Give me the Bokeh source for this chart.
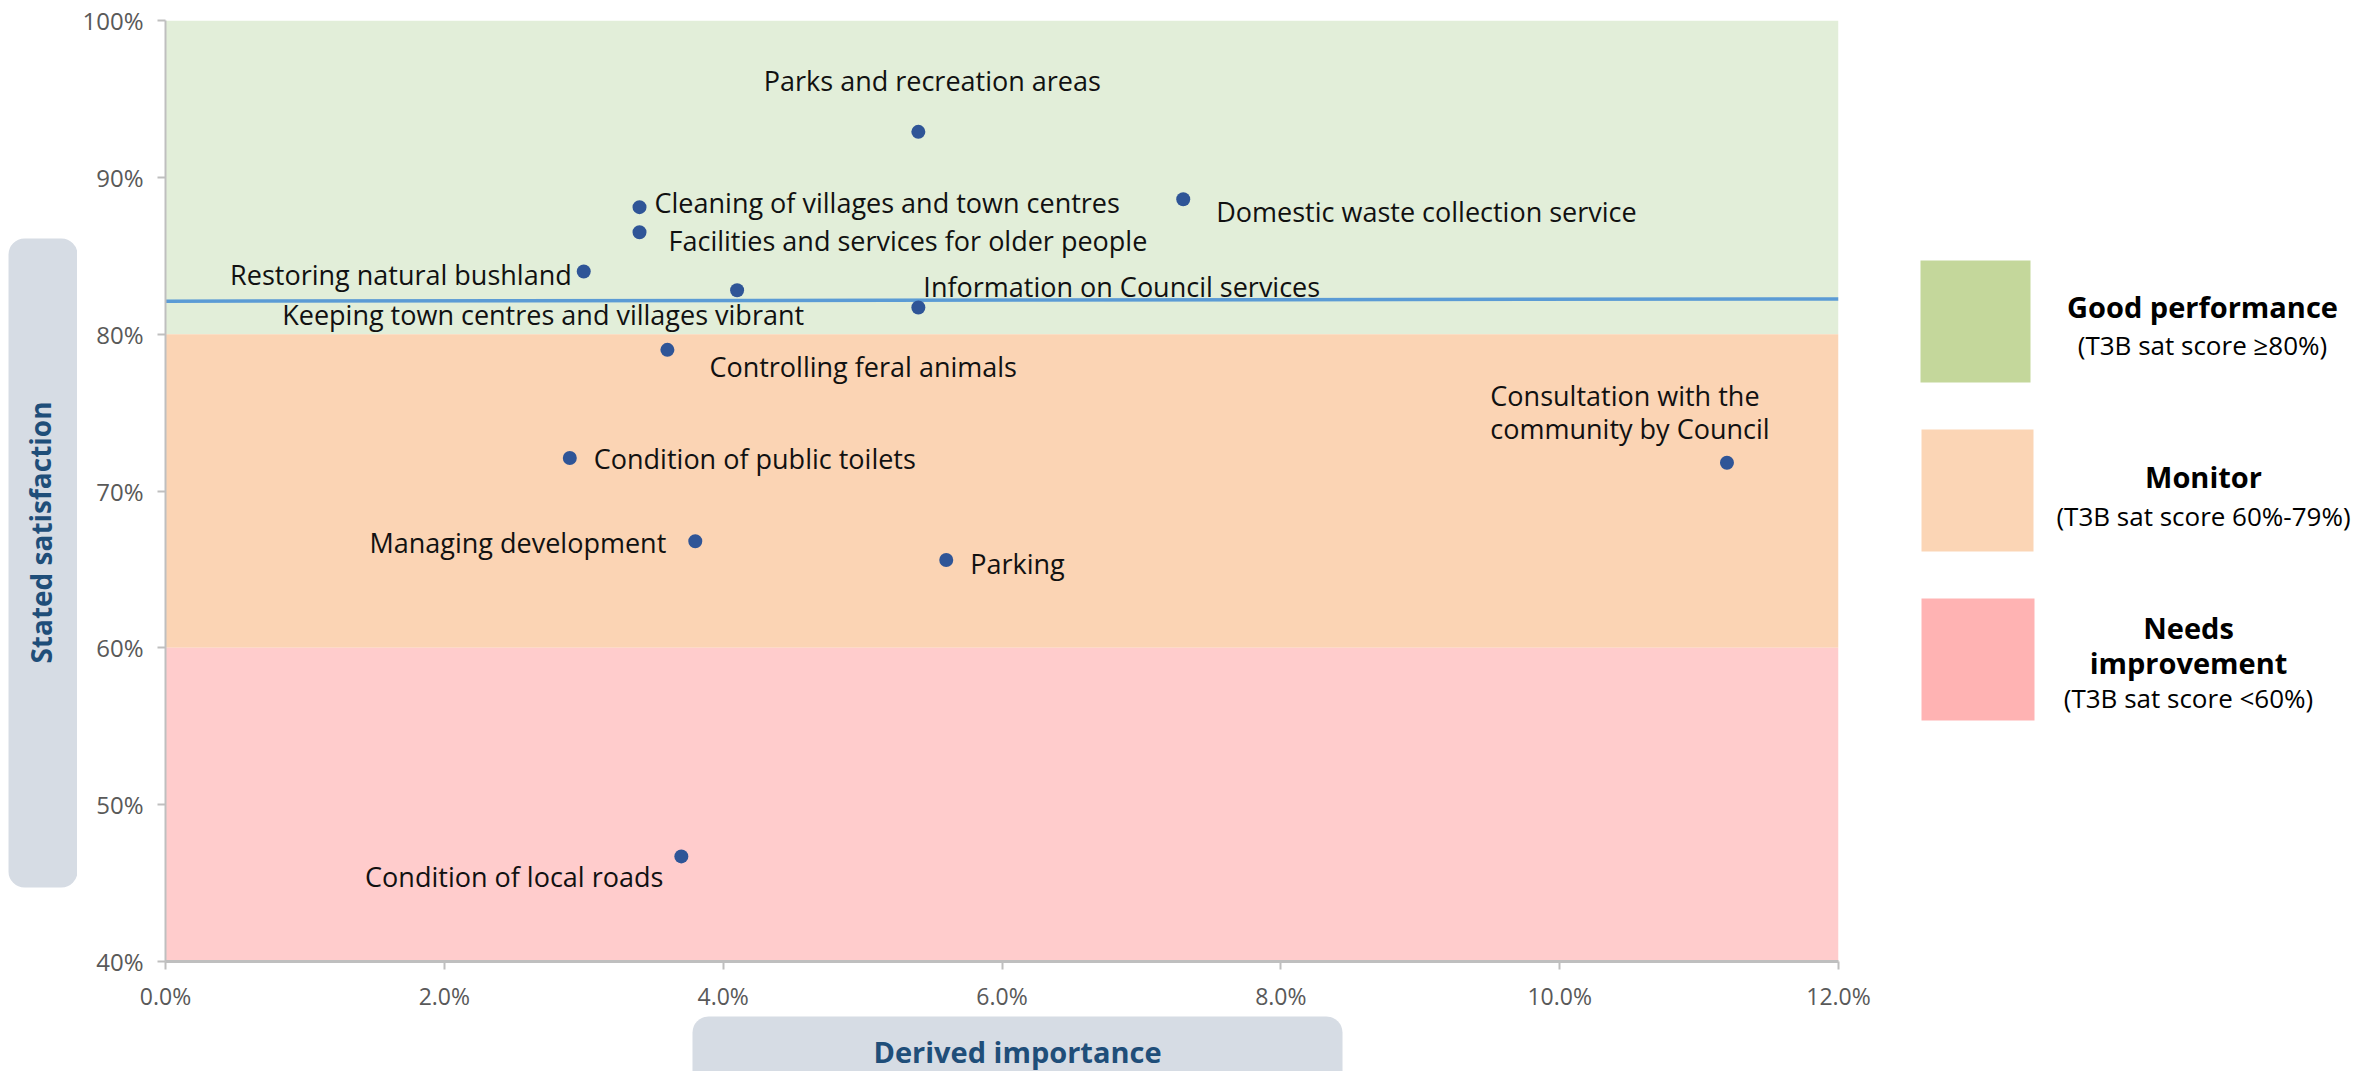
from bokeh.plotting import figure
from bokeh.layouts import row, column
from bokeh.models import (ColumnDataSource, LabelSet, Label, BoxAnnotation, Range1d,
                          PrintfTickFormatter, FixedTicker)
from bokeh.core.properties import value
from bokeh.embed import file_html
from bokeh.resources import INLINE

# ---------------- data ----------------
items = ["Parks and recreation areas", "Cleaning of villages and town centres",
         "Domestic waste collection service", "Facilities and services for older people",
         "Restoring natural bushland", "Keeping town centres and villages vibrant",
         "Information on Council services", "Controlling feral animals",
         "Condition of public toilets", "Consultation with the\ncommunity by Council",
         "Managing development", "Parking", "Condition of local roads"]
importance = [5.4, 3.4, 7.3, 3.4, 3.0, 4.1, 5.4, 3.6, 2.9, 11.2, 3.8, 5.6, 3.7]
satisfaction = [92.9, 88.1, 88.6, 86.5, 84.0, 82.8, 81.7, 79.0, 72.1, 71.8, 66.8, 65.6, 46.7]

avg_x = [0.0, 12.0]
avg_y = [82.1, 82.25]

band_bottom = [80, 60, 40]
band_top = [100, 80, 60]
band_colors = ["#E2EED9", "#FBD4B4", "#FFCCCC"]

x_ticks = [0, 2, 4, 6, 8, 10, 12]
y_ticks = [40, 50, 60, 70, 80, 90, 100]

x_title = "Derived importance"
y_title = "Stated satisfaction"
legend_title_lines = [["Good performance"], ["Monitor"], ["Needs", "improvement"]]
legend_subtitles = ["(T3B sat score \u226580%)", "(T3B sat score 60%-79%)", "(T3B sat score <60%)"]
legend_colors = ["#C4D79B", "#FBD5B5", "#FFB3B3"]

# label placement (screen px offsets and alignment)
lab_dx = [14, 15, 33, 29, -12, 67, 5, 42, 24, -97, -29, 24, -18]
lab_dy = [51, 5, -12, -8, -3, -24, 21, -17, 0, 51, -1, -3, -20]
lab_align = ["center", "left", "left", "left", "right", "right", "left", "left",
             "left", "center", "right", "left", "right"]

FONT = "Open Sans"
TOTAL_W, TOTAL_H = 2358, 1068

# ---------------- main chart ----------------
LEFT_W = 77
FL, FT, FW, FH, FR, FBB = 88, 20, 1673, 941, 40, 50
MAIN_W = FL + FW + FR
MAIN_H = FT + FH + FBB

p = figure(frame_width=FW, frame_height=FH, min_border_left=FL, min_border_top=FT,
           min_border_right=FR, min_border_bottom=FBB,
           x_range=Range1d(0, 12), y_range=Range1d(40, 100),
           output_backend="svg", toolbar_location=None, tools="")
p.outline_line_color = None
p.grid.visible = False
p.border_fill_color = "white"

bands = ColumnDataSource(dict(bottom=band_bottom, top=band_top, color=band_colors))
p.quad(left=0, right=12, bottom="bottom", top="top", fill_color="color",
       line_color=None, source=bands)

p.line(avg_x, avg_y, line_color="#5B9BD5", line_width=3.5)

src = ColumnDataSource(dict(x=importance, y=satisfaction, name=items,
                            dx=lab_dx, dy=lab_dy, align=lab_align))
p.scatter("x", "y", size=14, fill_color="#2F5597", line_color=None, source=src)
p.add_layout(LabelSet(x="x", y="y", text="name", x_offset="dx", y_offset="dy",
                      text_align="align", text_baseline="middle", source=src,
                      text_font=value(FONT), text_font_size="27px", text_color="#111111",
                      text_line_height=0.88))

for ax in (p.xaxis[0], p.yaxis[0]):
    ax.axis_line_color = "#BFBFBF"
    ax.axis_line_width = 2
    ax.major_tick_line_color = "#BFBFBF"
    ax.major_tick_line_width = 2
    ax.major_tick_in = 0
    ax.major_tick_out = 8
    ax.minor_tick_line_color = None
    ax.major_label_text_font = FONT
    ax.major_label_text_color = "#595959"
p.xaxis[0].ticker = FixedTicker(ticks=x_ticks)
p.yaxis[0].ticker = FixedTicker(ticks=y_ticks)
p.xaxis[0].formatter = PrintfTickFormatter(format="%.1f%%")
p.yaxis[0].formatter = PrintfTickFormatter(format="%d%%")
p.xaxis[0].axis_line_width = 3
p.xaxis[0].major_label_text_font_size = "23px"
p.yaxis[0].major_label_text_font_size = "24px"
p.xaxis[0].major_label_standoff = 10
p.yaxis[0].major_label_standoff = 14


def aux(w, h, top=0, bottom=0):
    # frame spans page rows top..h-bottom; data coordinates equal page pixels
    f = figure(frame_width=w, frame_height=h - top - bottom,
               x_range=Range1d(0, w), y_range=Range1d(h - bottom, top),
               min_border_left=0, min_border_right=0,
               min_border_top=top, min_border_bottom=bottom,
               output_backend="svg", toolbar_location=None, tools="",
               x_axis_type=None, y_axis_type=None)
    f.outline_line_color = None
    f.grid.visible = False
    f.background_fill_color = "white"
    f.border_fill_color = "white"
    return f


def box(f, l, t, r, b, color, radius=0):
    f.add_layout(BoxAnnotation(left=l, right=r, top=t, bottom=b,
                               fill_color=color, fill_alpha=1.0, line_color=None,
                               border_radius=radius))


def text(f, x, y, s, size, bold=False, color="#000000", angle=0.0):
    f.add_layout(Label(x=x, y=y, text=s, text_font=FONT, text_font_size=size,
                       text_font_style="bold" if bold else "normal",
                       text_color=color, text_align="center", text_baseline="middle",
                       angle=angle))


# left strip: y-axis title box (page x 0..77)
left = aux(LEFT_W, MAIN_H, FT, FBB)
box(left, 8, 238, 77, 887, "#D6DCE4", 16)
text(left, 40, 532, y_title, "28px", bold=True, color="#1F4E79", angle=1.5708)

# legend strip
LEG_X = LEFT_W + MAIN_W
leg = aux(TOTAL_W - LEG_X, MAIN_H, FT, FBB)
sq = [(1920, 260, 2030, 382), (1921, 429, 2033, 551), (1921, 598, 2034, 720)]
title_ys = [[306], [476], [627, 662]]
sub_y = [344, 515, 697]
cxs = [2202, 2203, 2188]
for i in range(3):
    l, t, r, b = sq[i]
    box(leg, l - LEG_X, t, r - LEG_X, b, legend_colors[i])
    for line, ty in zip(legend_title_lines[i], title_ys[i]):
        text(leg, cxs[i] - LEG_X, ty, line, "29px", bold=True)
    text(leg, cxs[i] - LEG_X, sub_y[i], legend_subtitles[i], "26px")

# bottom strip across the full width: x-axis title box
BOT_H = TOTAL_H - MAIN_H
bottom = aux(TOTAL_W, BOT_H)
oy = MAIN_H
box(bottom, 692, 1013 - oy, 1342, 1120 - oy, "#D6DCE4", 16)
text(bottom, 1017, 1048 - oy, x_title, "29px", bold=True, color="#1F4E79")

layout = column(row(left, p, leg, spacing=0), bottom, spacing=0)
open("out.html", "w").write(file_html(layout, INLINE))
